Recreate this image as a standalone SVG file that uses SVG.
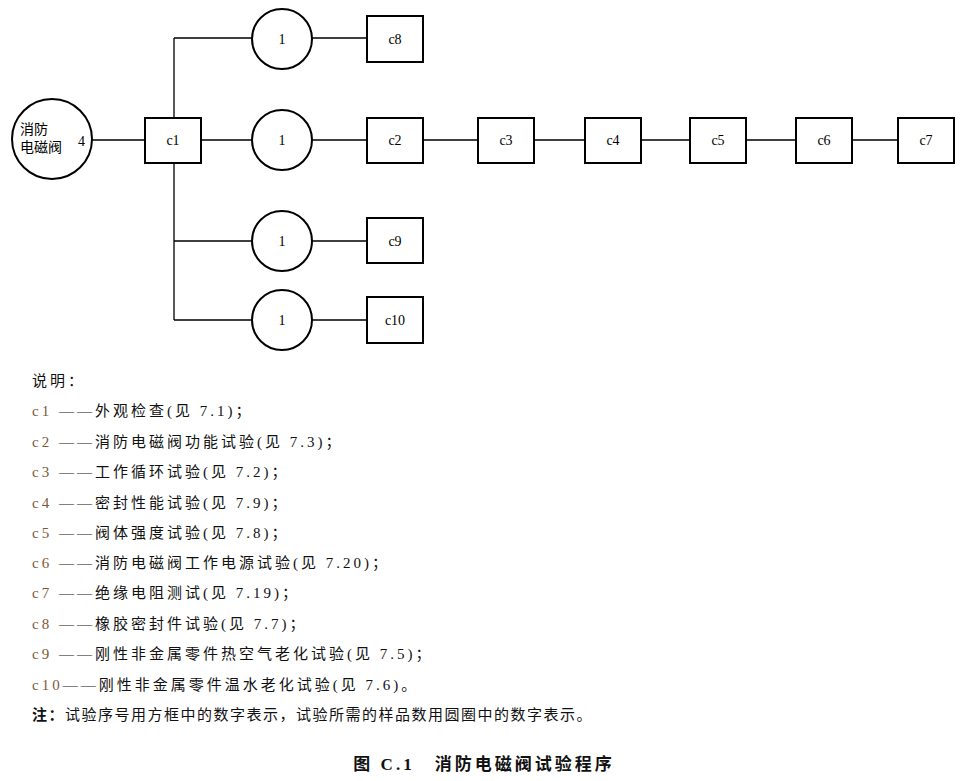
<svg xmlns="http://www.w3.org/2000/svg" width="977" height="781" viewBox="0 0 977 781">
<style>
.n{fill:#fff;stroke:#000;stroke-width:2}
.c{stroke:#000;stroke-width:1.3;fill:none}
.t{font-family:"Liberation Serif","Noto Sans CJK SC",serif;font-size:14px;fill:#000;text-anchor:middle}
.l{font-family:"Liberation Serif","Noto Sans CJK SC",serif;font-size:15px;fill:#111;letter-spacing:3px}
.k{fill:#7a5a3a}
</style>
<rect width="977" height="781" fill="#fff"/>
<g id="connectors" class="c">
<path d="M92 140H145M201 140H252M174 38V320M174 38H252M174 241H252M174 320H252M312 140H367M312 38H367M312 241H367M312 320H367M423 140H478M534 140H585M641 140H690M746 140H796M852 140H898"/>
</g>
<g id="n0"><circle class="n" cx="52" cy="139" r="40"/><text class="t" x="20" y="134" style="text-anchor:start">消防</text><text class="t" x="20" y="152" style="text-anchor:start">电磁阀</text><text class="t" x="78" y="146" style="text-anchor:start">4</text></g>
<g id="c1"><rect class="n" x="145" y="118" width="56" height="45"/><text class="t" x="173" y="145">c1</text></g>
<g id="s1"><circle class="n" cx="282" cy="39" r="30"/><text class="t" x="282" y="44">1</text></g>
<g id="s2"><circle class="n" cx="282" cy="140" r="30"/><text class="t" x="282" y="145">1</text></g>
<g id="s3"><circle class="n" cx="282" cy="241" r="30"/><text class="t" x="282" y="246">1</text></g>
<g id="s4"><circle class="n" cx="282" cy="320" r="30"/><text class="t" x="282" y="325">1</text></g>
<g id="c8"><rect class="n" x="367" y="16" width="56" height="46"/><text class="t" x="395" y="44">c8</text></g>
<g id="c2"><rect class="n" x="367" y="118" width="56" height="45"/><text class="t" x="395" y="145">c2</text></g>
<g id="c3"><rect class="n" x="478" y="118" width="56" height="45"/><text class="t" x="506" y="145">c3</text></g>
<g id="c4"><rect class="n" x="585" y="118" width="56" height="45"/><text class="t" x="613" y="145">c4</text></g>
<g id="c5"><rect class="n" x="690" y="118" width="56" height="45"/><text class="t" x="718" y="145">c5</text></g>
<g id="c6"><rect class="n" x="796" y="118" width="56" height="45"/><text class="t" x="824" y="145">c6</text></g>
<g id="c7"><rect class="n" x="898" y="118" width="56" height="45"/><text class="t" x="926" y="145">c7</text></g>
<g id="c9"><rect class="n" x="367" y="218" width="56" height="45"/><text class="t" x="395" y="246">c9</text></g>
<g id="c10"><rect class="n" x="367" y="297" width="56" height="46"/><text class="t" x="395" y="325">c10</text></g>
<g id="legend" class="l">
<text x="32" y="386">说明：</text>
<text x="32" y="416"><tspan class="k">c1 </tspan>——外观检查(见 7.1)；</text>
<text x="32" y="447"><tspan class="k">c2 </tspan>——消防电磁阀功能试验(见 7.3)；</text>
<text x="32" y="477"><tspan class="k">c3 </tspan>——工作循环试验(见 7.2)；</text>
<text x="32" y="508"><tspan class="k">c4 </tspan>——密封性能试验(见 7.9)；</text>
<text x="32" y="538"><tspan class="k">c5 </tspan>——阀体强度试验(见 7.8)；</text>
<text x="32" y="568"><tspan class="k">c6 </tspan>——消防电磁阀工作电源试验(见 7.20)；</text>
<text x="32" y="598"><tspan class="k">c7 </tspan>——绝缘电阻测试(见 7.19)；</text>
<text x="32" y="629"><tspan class="k">c8 </tspan>——橡胶密封件试验(见 7.7)；</text>
<text x="32" y="659"><tspan class="k">c9 </tspan>——刚性非金属零件热空气老化试验(见 7.5)；</text>
<text x="32" y="690"><tspan class="k">c10</tspan>——刚性非金属零件温水老化试验(见 7.6)。</text>
<text x="32" y="720" style="letter-spacing:1.5px"><tspan font-weight="bold">注：</tspan>试验序号用方框中的数字表示，试验所需的样品数用圆圈中的数字表示。</text>
<text x="484" y="770" text-anchor="middle" font-weight="bold" font-size="17" style="letter-spacing:3px">图 C.1　消防电磁阀试验程序</text>
</g>
</svg>
